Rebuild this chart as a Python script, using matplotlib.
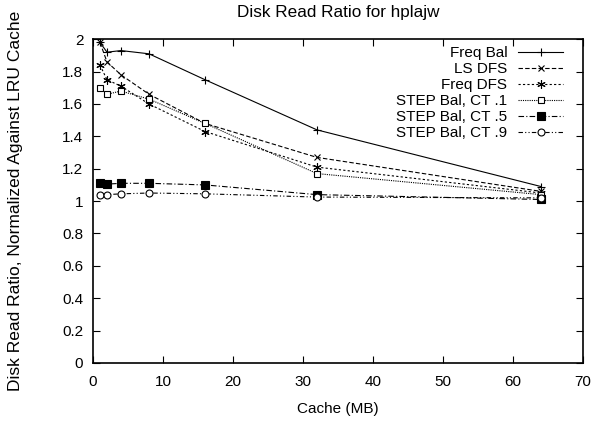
import numpy as np
import matplotlib
matplotlib.use("Agg")
import matplotlib.pyplot as plt
from matplotlib.ticker import FuncFormatter

plt.rcParams['font.family'] = ['Liberation Sans', 'DejaVu Sans']

# Cache sizes (MB)
cache = [1, 2, 4, 8, 16, 32, 64]

freq_bal = [1.98, 1.92, 1.93, 1.91, 1.75, 1.44, 1.09]
ls_dfs = [1.98, 1.86, 1.78, 1.66, 1.48, 1.27, 1.06]
freq_dfs = [1.84, 1.75, 1.71, 1.60, 1.43, 1.21, 1.05]
step_ct1 = [1.70, 1.66, 1.68, 1.63, 1.48, 1.17, 1.04]
step_ct5 = [1.11, 1.105, 1.11, 1.11, 1.10, 1.04, 1.01]
step_ct9 = [1.04, 1.04, 1.045, 1.05, 1.045, 1.025, 1.02]

labels = ["Freq Bal", "LS DFS", "Freq DFS",
          "STEP Bal, CT .1", "STEP Bal, CT .5", "STEP Bal, CT .9"]

fig = plt.figure(figsize=(6.05, 4.21), dpi=100)
ax = fig.add_axes([0.1537, 0.1378, 0.81, 0.769])

lw = 0.8
ax.plot(cache, freq_bal, '-', color='black', lw=lw, marker='+', ms=6,
        mew=lw, label=labels[0])
ax.plot(cache, ls_dfs, color='black', lw=lw, ls=(0, (4, 2)), marker='x',
        ms=5, mew=lw, label=labels[1])
ax.plot(cache, freq_dfs, color='black', lw=lw, ls=(0, (2, 2)), marker=(6, 2, 0),
        ms=6, mew=lw, label=labels[2])
ax.plot(cache, step_ct1, color='black', lw=lw, ls=(0, (1, 1)), marker='s',
        ms=5, mew=lw, mfc='white', label=labels[3])
ax.plot(cache, step_ct5, color='black', lw=lw, ls=(0, (5, 2, 1, 2)), marker='s',
        ms=6, mew=lw, mfc='black', label=labels[4])
ax.plot(cache, step_ct9, color='black', lw=lw, ls=(0, (4, 2, 1, 2, 1, 2)),
        marker='o', ms=5, mew=lw, mfc='white', label=labels[5])

ax.set_xlim(0, 70)
ax.set_ylim(0, 2)
ax.set_xticks(np.arange(0, 71, 10))
ax.set_yticks(np.arange(0, 2.01, 0.2))
ax.yaxis.set_major_formatter(FuncFormatter(lambda v, p: "%g" % round(v, 1)))
ax.tick_params(direction='in', top=True, right=True, labelsize=11,
               length=5, width=0.8)
ax.tick_params(axis='x', pad=9)
ax.tick_params(axis='y', pad=7)
for s in ax.spines.values():
    s.set_linewidth(1.2)

ax.set_title("Disk Read Ratio for hplajw", fontsize=12.3, pad=16)
ax.set_xlabel("Cache (MB)", fontsize=11, labelpad=9)
ax.set_ylabel("Disk Read Ratio, Normalized Against LRU Cache", fontsize=12.5,
              labelpad=28)

ax.legend(loc='upper right', bbox_to_anchor=(1, 1.04), frameon=False,
          markerfirst=False, fontsize=11, numpoints=1, handlelength=2.95,
          labelspacing=0.13, borderaxespad=0.9, handletextpad=0.7)

fig.savefig("out.png", dpi=100)
